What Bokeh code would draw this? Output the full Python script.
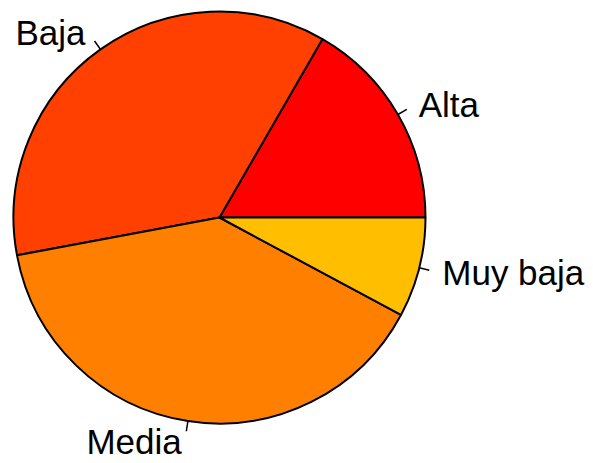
import numpy as np
from bokeh.plotting import figure
from bokeh.models import Range1d, ColumnDataSource
from bokeh.core.properties import value
from bokeh.embed import file_html
from bokeh.resources import INLINE

categories = ["Alta", "Baja", "Media", "Muy baja"]
counts = [17, 37, 40, 8]
colors = ["#FF0000", "#FF4000", "#FF8000", "#FFBF00"]

W, H = 593, 463
PX = 206.0            # pixels per unit radius
cx_px, cy_px = 219.0, 217.0   # pie centre within figure (pixels)

p = figure(width=W, height=H, output_backend="svg", toolbar_location=None,
           x_range=Range1d(-cx_px / PX, (W - cx_px) / PX),
           y_range=Range1d(-(H - cy_px) / PX, cy_px / PX),
           min_border=0, match_aspect=False)
p.axis.visible = False
p.grid.visible = False
p.outline_line_color = None
p.background_fill_color = "white"

vals = np.array(counts, dtype=float)
frac = vals / vals.sum()
ends = np.cumsum(frac) * 2 * np.pi
starts = np.concatenate([[0.0], ends[:-1]])
mids = (starts + ends) / 2

src = ColumnDataSource(dict(start=starts, end=ends, color=colors, cat=categories))
p.wedge(x=0, y=0, radius=1.0, start_angle="start", end_angle="end",
        direction="anticlock", fill_color="color", line_color="black",
        line_width=2, source=src)

# tick marks
p.segment(x0=np.cos(mids), y0=np.sin(mids), x1=1.05 * np.cos(mids), y1=1.05 * np.sin(mids),
          line_color="black", line_width=1.5)

lx = 1.1 * np.cos(mids)
ly = 1.1 * np.sin(mids)
right = lx >= 0
p.text(x=lx[right], y=ly[right], text=[c for c, r in zip(categories, right) if r],
       text_align="left", text_baseline="middle", x_offset=3, y_offset=0,
       text_font=value("Liberation Sans"), text_font_size="35px", text_color="black")
p.text(x=lx[~right], y=ly[~right], text=[c for c, r in zip(categories, right) if not r],
       text_align="right", text_baseline="middle", x_offset=-3, y_offset=0,
       text_font=value("Liberation Sans"), text_font_size="35px", text_color="black")

open("out.html", "w").write(file_html(p, INLINE))
